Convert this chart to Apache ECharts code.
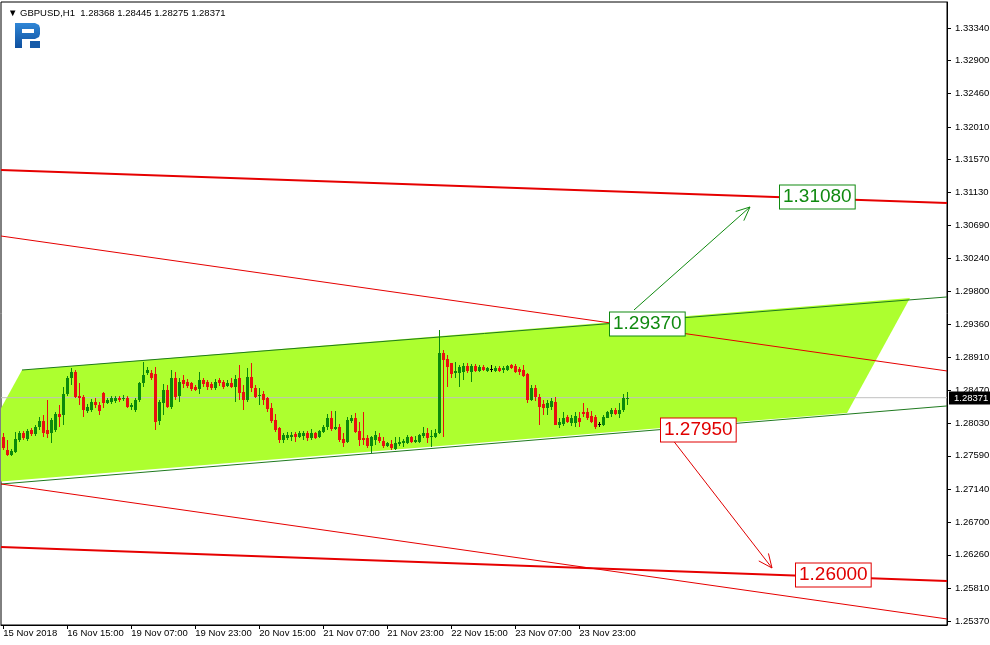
<!DOCTYPE html>
<html><head><meta charset="utf-8">
<script src="https://cdn.jsdelivr.net/npm/echarts@6/dist/echarts.min.js"></script>
<style>html,body{margin:0;padding:0;background:#fff}#c{width:990px;height:645px}</style>
</head><body><div id="c"></div>
<script>
// ---------- data ----------
const symbol = 'GBPUSD,H1';
const timeLabels = ['15 Nov 2018','16 Nov 15:00','19 Nov 07:00','19 Nov 23:00','20 Nov 15:00','21 Nov 07:00','21 Nov 23:00','22 Nov 15:00','23 Nov 07:00','23 Nov 23:00'];
const timeLabelBars = [0,16,32,48,64,80,96,112,128,144];
const priceTicks = [1.33340,1.32900,1.32460,1.32010,1.31570,1.31130,1.30690,1.30240,1.29800,1.29360,1.28910,1.28470,1.28030,1.27590,1.27140,1.26700,1.26260,1.25810,1.25370];
const xRange = [-0.575, 235.925];
const yRange = [1.25316, 1.33689];

const opens = [1.27843,1.27668,1.27601,1.27641,1.27802,1.27896,1.27816,1.27937,1.27883,1.27977,1.28058,1.27937,1.27896,1.27937,1.28152,1.28138,1.28421,1.28636,1.28716,1.28394,1.28380,1.28192,1.28206,1.28313,1.28273,1.28434,1.28300,1.28313,1.28327,1.28367,1.28353,1.28367,1.28246,1.28206,1.28340,1.28568,1.28703,1.28703,1.28689,1.28058,1.28300,1.28474,1.28246,1.28636,1.28394,1.28609,1.28582,1.28568,1.28515,1.28488,1.28609,1.28582,1.28555,1.28501,1.28609,1.28582,1.28528,1.28568,1.28515,1.28636,1.28448,1.28340,1.28649,1.28501,1.28394,1.28421,1.28367,1.28232,1.28071,1.27964,1.27802,1.27829,1.27843,1.27883,1.27843,1.27856,1.27896,1.27829,1.27896,1.27843,1.27910,1.27977,1.28098,1.27950,1.27977,1.27816,1.27775,1.28058,1.28098,1.27923,1.27829,1.27829,1.27722,1.27802,1.27843,1.27789,1.27722,1.27749,1.27681,1.27749,1.27762,1.27762,1.27843,1.27775,1.27775,1.27856,1.27896,1.27843,1.27843,1.27896,1.28972,1.28891,1.28837,1.28703,1.28703,1.28716,1.28797,1.28716,1.28797,1.28730,1.28783,1.28730,1.28756,1.28730,1.28770,1.28743,1.28743,1.28810,1.28797,1.28756,1.28743,1.28689,1.28340,1.28501,1.28380,1.28286,1.28232,1.28246,1.28313,1.28004,1.28017,1.28112,1.28031,1.28031,1.28098,1.28179,1.28179,1.28125,1.28112,1.28017,1.28004,1.28098,1.28152,1.28206,1.28152,1.28206,1.28368];
const closes = [1.27695,1.27601,1.27654,1.27816,1.27896,1.27829,1.27923,1.27883,1.27977,1.28058,1.27896,1.27883,1.28071,1.28152,1.28112,1.28421,1.28636,1.28716,1.28380,1.28367,1.28206,1.28246,1.28313,1.28273,1.28192,1.28300,1.28340,1.28367,1.28367,1.28340,1.28367,1.28246,1.28273,1.28340,1.28568,1.28676,1.28743,1.28636,1.28044,1.28313,1.28474,1.28246,1.28636,1.28380,1.28582,1.28555,1.28528,1.28488,1.28474,1.28609,1.28555,1.28515,1.28501,1.28582,1.28568,1.28515,1.28568,1.28515,1.28622,1.28434,1.28340,1.28649,1.28501,1.28380,1.28407,1.28340,1.28219,1.28058,1.27937,1.27802,1.27870,1.27870,1.27870,1.27843,1.27896,1.27896,1.27829,1.27896,1.27829,1.27923,1.27977,1.28098,1.27950,1.27977,1.27802,1.27762,1.28071,1.28098,1.27910,1.27802,1.27802,1.27722,1.27843,1.27870,1.27789,1.27722,1.27762,1.27695,1.27762,1.27775,1.27789,1.27843,1.27775,1.27802,1.27870,1.27896,1.27829,1.27856,1.27896,1.28972,1.28878,1.28783,1.28689,1.28730,1.28783,1.28797,1.28730,1.28797,1.28730,1.28783,1.28743,1.28770,1.28756,1.28770,1.28730,1.28770,1.28797,1.28770,1.28716,1.28716,1.28663,1.28340,1.28501,1.28380,1.28246,1.28232,1.28300,1.28327,1.28004,1.28044,1.28098,1.28044,1.28098,1.28125,1.28044,1.28152,1.28098,1.28044,1.27977,1.28017,1.28112,1.28179,1.28206,1.28152,1.28206,1.28367,1.28371];
const highs = [1.27896,1.27802,1.27681,1.27910,1.27923,1.27923,1.27950,1.27964,1.28004,1.28112,1.28138,1.28340,1.28098,1.28179,1.28273,1.28515,1.28663,1.28770,1.28743,1.28568,1.28407,1.28286,1.28353,1.28367,1.28313,1.28448,1.28367,1.28394,1.28394,1.28394,1.28407,1.28394,1.28300,1.28367,1.28582,1.28851,1.28783,1.28743,1.28783,1.28340,1.28555,1.28542,1.28743,1.28716,1.28636,1.28676,1.28622,1.28582,1.28542,1.28716,1.28636,1.28609,1.28582,1.28622,1.28636,1.28609,1.28609,1.28636,1.28676,1.28810,1.28542,1.28770,1.28837,1.28542,1.28501,1.28461,1.28380,1.28300,1.28152,1.27977,1.27896,1.27910,1.27910,1.27910,1.27923,1.27923,1.27923,1.27950,1.27910,1.27937,1.28004,1.28152,1.28192,1.28192,1.28017,1.27896,1.28112,1.28138,1.28165,1.28044,1.28179,1.27870,1.27856,1.27923,1.27896,1.27843,1.27775,1.27802,1.27843,1.27843,1.27816,1.27870,1.27856,1.27856,1.27883,1.27977,1.27964,1.27937,1.27950,1.29281,1.29012,1.28945,1.28837,1.28851,1.28810,1.28837,1.28837,1.28824,1.28824,1.28810,1.28810,1.28783,1.28810,1.28797,1.28797,1.28797,1.28810,1.28824,1.28824,1.28783,1.28810,1.28703,1.28542,1.28542,1.28421,1.28340,1.28340,1.28367,1.28380,1.28098,1.28179,1.28138,1.28138,1.28179,1.28179,1.28300,1.28232,1.28192,1.28138,1.28044,1.28138,1.28192,1.28232,1.28232,1.28300,1.28421,1.28445];
const lows = [1.27668,1.27587,1.27587,1.27628,1.27775,1.27802,1.27789,1.27856,1.27856,1.27937,1.27843,1.27829,1.27762,1.27910,1.27977,1.28004,1.28394,1.28542,1.28367,1.28273,1.28112,1.28165,1.28179,1.28232,1.28138,1.28232,1.28286,1.28286,1.28300,1.28313,1.28327,1.28232,1.28206,1.28179,1.28313,1.28515,1.28676,1.28609,1.27937,1.28004,1.28138,1.28232,1.28219,1.28340,1.28313,1.28501,1.28501,1.28461,1.28461,1.28421,1.28515,1.28474,1.28474,1.28474,1.28528,1.28488,1.28515,1.28501,1.28313,1.28340,1.28206,1.28313,1.28448,1.28367,1.28273,1.28273,1.28179,1.28031,1.27910,1.27762,1.27762,1.27802,1.27789,1.27775,1.27829,1.27802,1.27789,1.27802,1.27816,1.27829,1.27896,1.27937,1.27923,1.27937,1.27775,1.27708,1.27762,1.28031,1.27896,1.27722,1.27735,1.27695,1.27628,1.27735,1.27762,1.27695,1.27708,1.27668,1.27668,1.27722,1.27708,1.27749,1.27762,1.27762,1.27762,1.27829,1.27762,1.27708,1.27829,1.27883,1.27843,1.28515,1.28636,1.28636,1.28515,1.28609,1.28703,1.28582,1.28716,1.28716,1.28730,1.28716,1.28716,1.28716,1.28716,1.28703,1.28730,1.28756,1.28703,1.28676,1.28649,1.28300,1.28327,1.28327,1.28004,1.28138,1.28138,1.28206,1.28004,1.27964,1.27990,1.28031,1.27990,1.27977,1.27977,1.28112,1.28071,1.28031,1.27950,1.27977,1.27990,1.28098,1.28112,1.28138,1.28098,1.28179,1.28275];

// trend lines: [barIndex, price] end points
const upperThickRed = [[-0.575,1.31431],[235.925,1.30988]];
const upperThinRed  = [[-0.575,1.30544],[235.925,1.28730]];
const channelTop    = [[4.675,1.28743],[235.925,1.29725]];
const channelBottom = [[-0.575,1.27211],[235.925,1.28260]];
const lowerThinRed  = [[-0.575,1.27211],[235.925,1.25397]];
const lowerThickRed = [[-0.575,1.26365],[235.925,1.25908]];
// channel area (parallelogram)
const channelAreaBars   = [4.675, 226.675, 210.925, -11.075];
const channelAreaPrices = [1.28743, 1.29711, 1.28166, 1.27198];
// arrows [fromBar, fromPrice, toBar, toPrice]
const upArrow   = [157.675,1.29550,186.675,1.30934];
const downArrow = [165.425,1.27937,192.175,1.26082];
// level labels
const levelLabels = [
  {bar:151.675, price:1.29370, kind:'up'},
  {bar:194.175, price:1.31080, kind:'up'},
  {bar:164.425, price:1.27950, kind:'down'},
  {bar:198.175, price:1.26000, kind:'down'}
];

// ---------- styles ----------
const GREEN = '#0b8a0b', RED = '#e81010', LINE_RED = '#e60000', LINE_GREEN = '#1f7a1f', AREA = '#adff2f';
const FONT = 'Liberation Sans';

const last = closes.length - 1;
const candleData = opens.map((o,i)=>[i,o,closes[i],lows[i],highs[i]]);

function candleItem(params, api){
  const i = api.value(0), o = api.value(1), c = api.value(2), l = api.value(3), h = api.value(4);
  const pO = api.coord([i,o]), pC = api.coord([i,c]), pL = api.coord([i,l]), pH = api.coord([i,h]);
  const cx = Math.floor(pO[0]);
  const color = c > o ? GREEN : (c < o ? RED : '#000');
  const top = Math.round(Math.min(pO[1], pC[1])), bot = Math.round(Math.max(pO[1], pC[1]));
  return {type:'group', children:[
    {type:'rect', shape:{x:cx, y:Math.round(pH[1]), width:1, height:Math.max(1,Math.round(pL[1])-Math.round(pH[1]))}, style:{fill:color}},
    {type:'rect', shape:{x:cx-1, y:top, width:3, height:Math.max(1,bot-top)}, style:{fill:color}}
  ]};
}

function areaItem(params, api){
  const pts = channelAreaBars.map((b,k)=>api.coord([b, channelAreaPrices[k]]));
  const cs = params.coordSys;
  return {type:'polygon', shape:{points:pts}, style:{fill:AREA},
    clipPath:{type:'rect', shape:{x:cs.x, y:cs.y, width:cs.width, height:cs.height}}};
}

function arrowItem(color){
  return function(params, api){
    const a = api.coord([api.value(0), api.value(1)]);
    const b = api.coord([api.value(2), api.value(3)]);
    const ang = Math.atan2(b[1]-a[1], b[0]-a[0]);
    const L = 15, spread = 0.42;
    const h1 = [b[0]-L*Math.cos(ang-spread), b[1]-L*Math.sin(ang-spread)];
    const h2 = [b[0]-L*Math.cos(ang+spread), b[1]-L*Math.sin(ang+spread)];
    return {type:'group', children:[
      {type:'line', shape:{x1:a[0],y1:a[1],x2:b[0],y2:b[1]}, style:{stroke:color, lineWidth:1}},
      {type:'line', shape:{x1:h1[0],y1:h1[1],x2:b[0],y2:b[1]}, style:{stroke:color, lineWidth:1}},
      {type:'line', shape:{x1:h2[0],y1:h2[1],x2:b[0],y2:b[1]}, style:{stroke:color, lineWidth:1}}
    ]};
  };
}

function labelItem(params, api){
  const p = api.coord([api.value(0), api.value(1)]);
  const up = api.value(2) === 1;
  const col = up ? '#108a10' : '#e00000';
  return {type:'text', x:Math.round(p[0]), y:Math.round(p[1])+1,
    style:{text: api.value(1).toFixed(5), font:'19px "'+FONT+'"', fill:col, align:'left', verticalAlign:'middle',
      backgroundColor:'#fff', borderColor:col, borderWidth:1, padding:[3,3,1,3]}};
}

function bidLabelItem(params, api){
  const p = api.coord([xRange[1], api.value(0)]);
  return {type:'text', x:Math.round(p[0])+2, y:Math.round(p[1]),
    style:{text: api.value(0).toFixed(5), font:'9.5px "'+FONT+'"', fill:'#fff', align:'left', verticalAlign:'middle',
      backgroundColor:'#000', padding:[2,3,1,5]}};
}

function lineSeries(data, color, width){
  return {type:'line', data:data, showSymbol:false, symbol:'none', silent:true, animation:false,
    lineStyle:{color:color, width:width}, z:3};
}

const chart = echarts.init(document.getElementById('c'), null, {renderer:'canvas'});
chart.setOption({
  animation:false,
  backgroundColor:'#fff',
  title:{text:'\u25BC ' + symbol + '  ' + [opens[last],highs[last],lows[last],closes[last]].map(v=>v.toFixed(5)).join(' '),
    left:3, top:3, textStyle:{fontFamily:FONT, fontSize:9.5, fontWeight:'normal', color:'#000'}},
  grid:{left:1, right:43, top:2, bottom:20, show:true, borderColor:'#000', borderWidth:1, backgroundColor:'#fff',
    containLabel:false, outerBoundsMode:'none'},
  xAxis:{type:'value', min:xRange[0], max:xRange[1], splitLine:{show:false},
    axisLine:{show:true, onZero:false, lineStyle:{color:'#000', width:1}},
    axisTick:{show:true, customValues:timeLabelBars, length:4, inside:false, lineStyle:{color:'#000'}},
    axisLabel:{customValues:timeLabelBars, formatter:v=>timeLabels[timeLabelBars.indexOf(Math.round(v))],
      align:'left', margin:3, color:'#000', fontFamily:FONT, fontSize:9.5, padding:[0,0,0,0]}},
  yAxis:{type:'value', position:'right', min:yRange[0], max:yRange[1], scale:true, splitLine:{show:false},
    axisLine:{show:true, onZero:false, lineStyle:{color:'#000', width:1}},
    axisTick:{show:true, customValues:priceTicks, length:4, lineStyle:{color:'#000'}},
    axisLabel:{customValues:priceTicks, formatter:v=>v.toFixed(5), margin:8, color:'#000', fontFamily:FONT, fontSize:9.5}},
  graphic:[
    {type:'group', left:15, top:23, children:[
      {type:'polygon', shape:{points:[[0,0],[20,0],[24,2],[25,5],[25,11],[24,14],[20,16],[7,16],[7,25],[0,25]]},
        style:{fill:new echarts.graphic.LinearGradient(0,0,0,1,[{offset:0,color:'#2f86d6'},{offset:1,color:'#0e4f9e'}])}},
      {type:'rect', shape:{x:7, y:6, width:12, height:4}, style:{fill:'#fff'}},
      {type:'rect', shape:{x:15, y:18, width:10, height:7}, style:{fill:'#155aa8'}}
    ]}
  ],
  series:[
    {type:'custom', name:'area', renderItem:areaItem, data:[[0]], silent:true, z:1},
    Object.assign(lineSeries([[xRange[0],closes[last]],[xRange[1],closes[last]]], '#c0c0c0', 1), {z:2}),
    {type:'custom', renderItem:bidLabelItem, data:[[closes[last]]], silent:true, z:10, encode:{y:0}},
    lineSeries(upperThickRed, LINE_RED, 2),
    lineSeries(upperThinRed, LINE_RED, 1),
    lineSeries(channelTop, LINE_GREEN, 1),
    lineSeries(channelBottom, LINE_GREEN, 1),
    lineSeries(lowerThinRed, LINE_RED, 1),
    lineSeries(lowerThickRed, LINE_RED, 2),
    {type:'custom', name:'candles', renderItem:candleItem, data:candleData, silent:true, z:4,
      encode:{x:0, y:[1,2,3,4]}},
    {type:'custom', renderItem:arrowItem('#108a10'), data:[upArrow], silent:true, z:5, encode:{x:[0,2], y:[1,3]}},
    {type:'custom', renderItem:arrowItem('#e00000'), data:[downArrow], silent:true, z:5, encode:{x:[0,2], y:[1,3]}},
    {type:'custom', renderItem:labelItem, silent:true, z:6, encode:{x:0, y:1},
      data:levelLabels.map(d=>[d.bar, d.price, d.kind==='up'?1:0])}
  ]
});
</script></body></html>
